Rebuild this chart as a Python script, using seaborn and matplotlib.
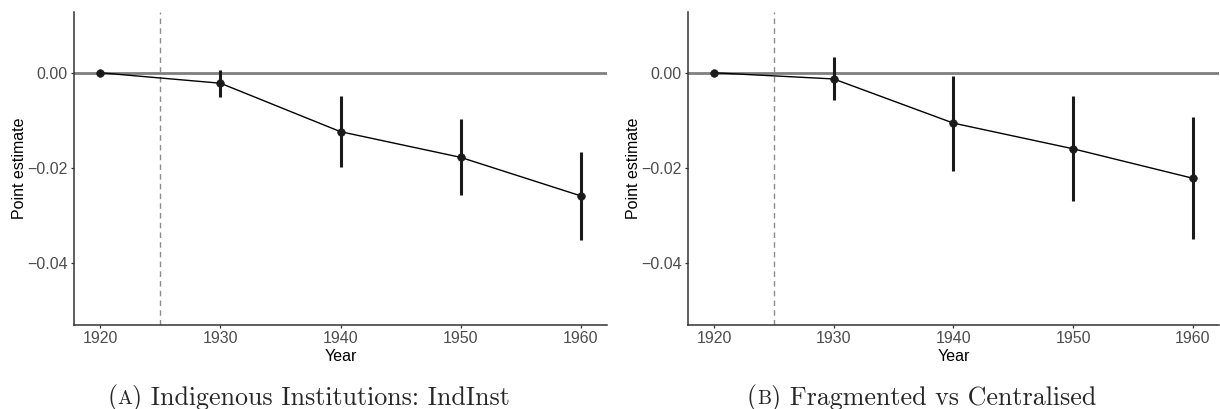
import numpy as np
import pandas as pd
import matplotlib
matplotlib.use("Agg")
import matplotlib.pyplot as plt
import seaborn as sns

# event-study estimates
years = [1920, 1930, 1940, 1950, 1960]

est_a = [0.0, -0.0022, -0.0124, -0.0178, -0.0259]
lo_a = [0.0, -0.0051, -0.0199, -0.0258, -0.0352]
hi_a = [0.0, 0.0006, -0.0048, -0.0098, -0.0167]

est_b = [0.0, -0.0013, -0.0106, -0.0160, -0.0222]
lo_b = [0.0, -0.0057, -0.0206, -0.0270, -0.0350]
hi_b = [0.0, 0.0033, -0.0006, -0.0048, -0.0093]

captions = ["Indigenous Institutions: IndInst", "Fragmented vs Centralised"]
letters = ["A", "B"]
yticks = [0.0, -0.02, -0.04]
ytick_labels = ["0.00", "\u22120.02", "\u22120.04"]

sns.set_theme(style="ticks")
plt.rcParams['font.family'] = ['Liberation Sans', 'DejaVu Sans']

fig = plt.figure(figsize=(12.2, 4.09), dpi=100)
ax_a = fig.add_axes([0.0607, 0.2054, 0.4368, 0.7653])
ax_b = fig.add_axes([0.5637, 0.2054, 0.4355, 0.7653])

panels = [(ax_a, est_a, lo_a, hi_a), (ax_b, est_b, lo_b, hi_b)]
for i, (ax, est, lo, hi) in enumerate(panels):
    df = pd.DataFrame({'year': years, 'est': est, 'lo': lo, 'hi': hi})
    ax.axhline(0, color='#7f7f7f', lw=2, zorder=1)
    ax.axvline(1925, color='#8c8c8c', lw=1, ls=(0, (4, 3)), zorder=1)
    sns.lineplot(data=df, x='year', y='est', color='black', lw=1, ax=ax, zorder=2)
    ci = df[df['year'] > 1920]
    ax.vlines(ci['year'], ci['lo'], ci['hi'], color='#1a1a1a', lw=2.2, zorder=3)
    sns.scatterplot(data=df, x='year', y='est', color='#1a1a1a', s=30,
                    edgecolor='#1a1a1a', linewidth=0.5, ax=ax, zorder=4)
    ax.set_xlim(1917.8, 1962.2)
    ax.set_ylim(-0.0531, 0.0128)
    ax.set_xticks(years)
    ax.set_yticks(yticks)
    ax.set_yticklabels(ytick_labels)
    ax.tick_params(axis='both', labelsize=11.5, labelcolor='#4d4d4d', color='#333333',
                   length=2.5, width=0.9, pad=2)
    ax.set_xlabel('Year', fontsize=11.5, color='black', labelpad=2)
    ax.set_ylabel('Point estimate', fontsize=11.5, color='black')
    ax.yaxis.set_label_coords(-0.088, 0.5)
    for side in ['left', 'bottom']:
        ax.spines[side].set_color('#333333')
        ax.spines[side].set_linewidth(1.1)
    sns.despine(ax=ax)

# sub-captions in a Computer Modern look, with a small-caps panel letter
renderer = fig.canvas.get_renderer()
cap_x = [308.5, 921.5]
cap_base = 5
big, small = 18.7, 14.2
for i in range(2):
    pieces = [('(', big), (letters[i], small), (') ' + captions[i], big)]
    texts = []
    for s, fs in pieces:
        t = fig.text(0, cap_base, s, family='cmr10', fontsize=fs, va='baseline',
                     ha='left', transform=None)
        texts.append(t)
    widths = [t.get_window_extent(renderer).width for t in texts]
    x = cap_x[i] - sum(widths) / 2
    for t, w in zip(texts, widths):
        t.set_x(x)
        x += w

plt.savefig("out.png", dpi=100)
